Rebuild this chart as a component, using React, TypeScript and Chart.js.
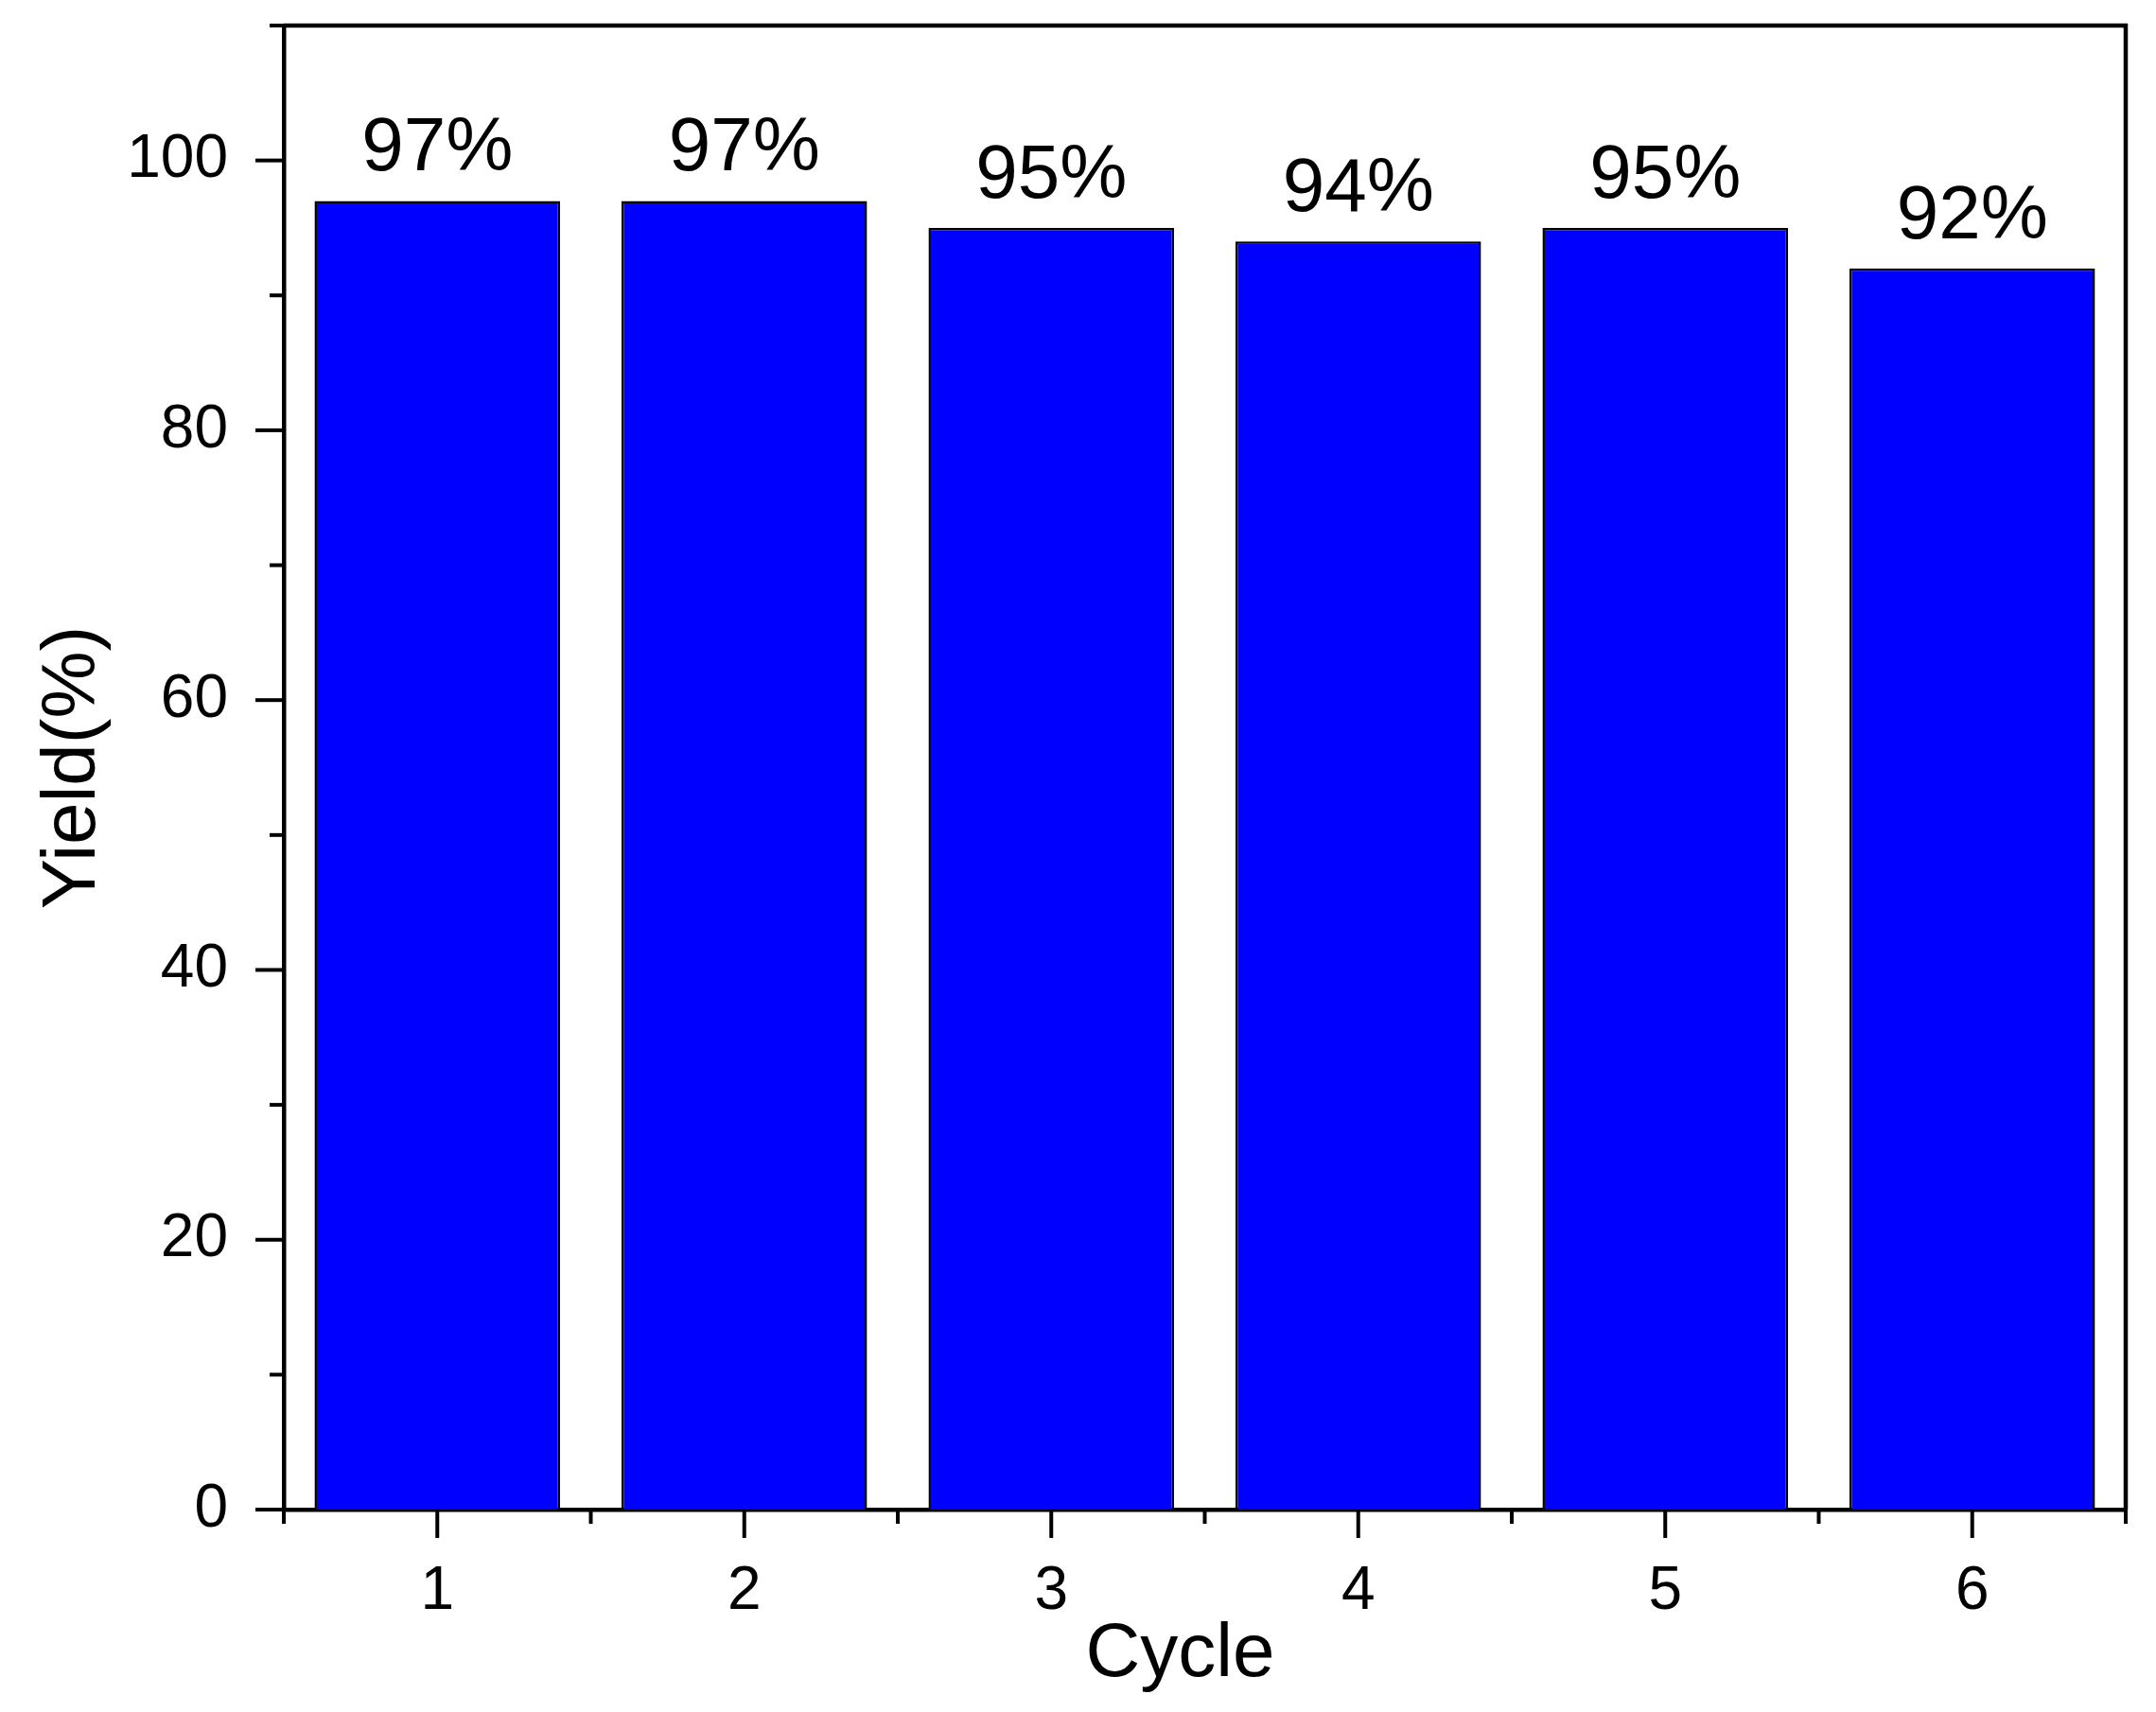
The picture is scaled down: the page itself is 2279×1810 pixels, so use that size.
import React, { useEffect, useRef } from 'react';
import { Chart, registerables } from 'chart.js';

Chart.register(...registerables);

const categories = ['1', '2', '3', '4', '5', '6'];
const yields = [97, 97, 95, 94, 95, 92];
const yLabelled = [0, 20, 40, 60, 80, 100];
const yMin = 0;
const yMax = 110;
const yStep = 10;
const xTitle = 'Cycle';
const yTitle = 'Yield(%)';

const FONT = 'Arial, "Liberation Sans", sans-serif';
const W = 2279;
const H = 1810;

export default function App() {
  const ref = useRef<HTMLCanvasElement>(null);

  useEffect(() => {
    const canvas = ref.current;
    if (!canvas) return;

    const decorPlugin = {
      id: 'decor',
      afterDatasetsDraw(chart: any) {
        const ctx = chart.ctx;
        const meta = chart.getDatasetMeta(0);
        ctx.save();
        ctx.fillStyle = '#000';
        ctx.font = `80px ${FONT}`;
        ctx.textAlign = 'center';
        ctx.textBaseline = 'alphabetic';
        meta.data.forEach((bar: any, i: number) => {
          ctx.fillText(`${yields[i]}%`, bar.x, bar.y - 32);
        });
        ctx.restore();
      },
      afterDraw(chart: any) {
        const ctx = chart.ctx;
        const a = chart.chartArea;
        const xs = chart.scales.x;
        const ys = chart.scales.y;
        ctx.save();
        ctx.strokeStyle = '#000';
        ctx.lineCap = 'butt';
        // frame (top & right)
        ctx.lineWidth = 4.5;
        ctx.lineJoin = 'miter';
        ctx.beginPath();
        ctx.moveTo(a.left, a.top);
        ctx.lineTo(a.right, a.top);
        ctx.lineTo(a.right, a.bottom);
        ctx.stroke();
        // y ticks
        ctx.lineWidth = 4;
        for (let v = yMin; v <= yMax; v += yStep) {
          const py = ys.getPixelForValue(v);
          const len = yLabelled.includes(v) ? 30 : 15;
          ctx.beginPath();
          ctx.moveTo(a.left - len, py);
          ctx.lineTo(a.left, py);
          ctx.stroke();
        }
        // x ticks
        for (let i = 0; i < categories.length; i++) {
          const px = xs.getPixelForValue(i);
          ctx.beginPath();
          ctx.moveTo(px, a.bottom);
          ctx.lineTo(px, a.bottom + 30);
          ctx.stroke();
        }
        for (let i = -0.5; i <= categories.length - 0.5; i += 1) {
          const px = xs.getPixelForValue(i);
          ctx.beginPath();
          ctx.moveTo(px, a.bottom);
          ctx.lineTo(px, a.bottom + 15);
          ctx.stroke();
        }
        // x axis title
        ctx.fillStyle = '#000';
        ctx.font = `80px ${FONT}`;
        ctx.textAlign = 'center';
        ctx.textBaseline = 'alphabetic';
        ctx.fillText(xTitle, (a.left + a.right) / 2 - 26, a.bottom + 176);
        ctx.restore();
      },
    };

    const chart = new Chart(canvas, {
      type: 'bar',
      data: {
        labels: categories,
        datasets: [
          {
            data: yields,
            backgroundColor: '#0000FF',
            borderColor: '#000000',
            borderWidth: 2.5,
            barPercentage: 0.8,
            categoryPercentage: 1.0,
          },
        ],
      },
      options: {
        responsive: false,
        animation: false,
        layout: { padding: { top: 27, right: 32, left: 0, bottom: 0 } },
        plugins: {
          legend: { display: false },
          tooltip: { enabled: false },
        },
        scales: {
          x: {
            type: 'category',
            offset: true,
            grid: { display: false },
            border: { display: true, color: '#000', width: 4.5 },
            ticks: {
              color: '#000',
              font: { family: FONT, size: 64 },
              padding: 41,
              maxRotation: 0,
              autoSkip: false,
            },
            title: { display: false },
            afterFit: (s: any) => {
              s.height = 214;
              s.paddingLeft = 0;
              s.paddingRight = 0;
            },
          },
          y: {
            type: 'linear',
            min: yMin,
            max: yMax,
            grid: { display: false },
            border: { display: true, color: '#000', width: 4.5 },
            ticks: {
              stepSize: yStep,
              autoSkip: false,
              color: '#000',
              font: { family: FONT, size: 64 },
              padding: 51,
              callback: (v: any) => (yLabelled.includes(Number(v)) ? String(v) : ''),
            },
            title: {
              display: true,
              text: yTitle,
              color: '#000',
              font: { family: FONT, size: 80 },
              padding: { top: 30, bottom: 0 },
            },
            afterFit: (s: any) => {
              s.width = 300;
              s.paddingTop = 0;
              s.paddingBottom = 0;
            },
          },
        },
      },
      plugins: [decorPlugin],
    } as any);

    return () => chart.destroy();
  }, []);

  return (
    <div style={{ position: 'absolute', left: 0, top: 0, width: W, height: H, background: '#fff' }}>
      <canvas ref={ref} width={W} height={H} style={{ width: W, height: H, display: 'block' }} />
    </div>
  );
}
